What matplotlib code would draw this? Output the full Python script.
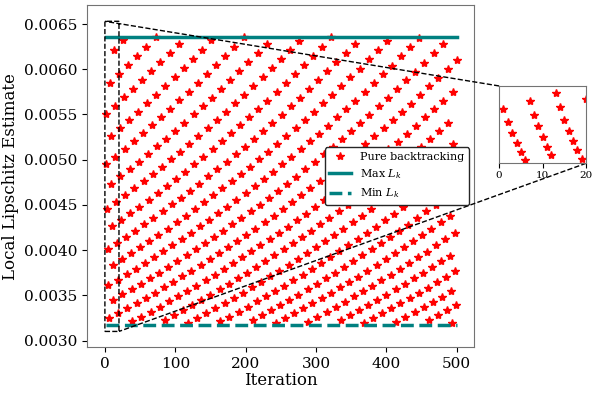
import matplotlib
matplotlib.use("Agg")
import matplotlib.pyplot as plt
import numpy as np

plt.rcParams["font.family"] = "DejaVu Serif"
plt.rcParams["mathtext.fontset"] = "dejavuserif"

# Local Lipschitz estimate per iteration, in units of 1e-6 (iterations 1..500)
L_UNITS = [
    5502, 4952, 4457, 4011, 3610, 3249, 5848, 5263, 4737, 4263,
    3837, 3453, 6216, 5594, 5035, 4531, 4078, 3670, 3303, 5946,
    5352, 4816, 4335, 3901, 3511, 6320, 5688, 5119, 4607, 4147,
    3732, 3359, 6046, 5441, 4897, 4407, 3967, 3570, 3213, 5783,
    5205, 4684, 4216, 3794, 3415, 6147, 5532, 4979, 4481, 4033,
    3630, 3267, 5880, 5292, 4763, 4287, 3858, 3472, 6250, 5625,
    5062, 4556, 4101, 3691, 3321, 5979, 5381, 4843, 4358, 3923,
    3530, 6355, 5719, 5147, 4633, 4169, 3752, 3377, 6079, 5471,
    4924, 4431, 3988, 3589, 3231, 5815, 5233, 4710, 4239, 3815,
    3434, 6181, 5563, 5006, 4506, 4055, 3650, 3285, 5912, 5321,
    4789, 4310, 3879, 3491, 6284, 5656, 5090, 4581, 4123, 3711,
    3340, 6011, 5410, 4869, 4382, 3944, 3550, 3195, 5750, 5175,
    4658, 4192, 3773, 3396, 6112, 5501, 4951, 4456, 4010, 3609,
    3248, 5847, 5262, 4736, 4262, 3836, 3452, 6214, 5593, 5034,
    4530, 4077, 3670, 3303, 5945, 5350, 4815, 4334, 3900, 3510,
    6318, 5687, 5118, 4606, 4146, 3731, 3358, 6044, 5440, 4896,
    4406, 3966, 3569, 3212, 5782, 5204, 4683, 4215, 3793, 3414,
    6145, 5531, 4978, 4480, 4032, 3629, 3266, 5879, 5291, 4762,
    4286, 3857, 3471, 6248, 5623, 5061, 4555, 4099, 3690, 3321,
    5977, 5379, 4841, 4357, 3922, 3529, 6353, 5718, 5146, 4631,
    4168, 3751, 3376, 6077, 5469, 4923, 4430, 3987, 3589, 3230,
    5813, 5232, 4709, 4238, 3814, 3433, 6179, 5561, 5005, 4504,
    4054, 3649, 3284, 5911, 5320, 4788, 4309, 3878, 3490, 6282,
    5654, 5089, 4580, 4122, 3710, 3339, 6010, 5409, 4868, 4381,
    3943, 3549, 3194, 5749, 5174, 4657, 4191, 3772, 3395, 6110,
    5499, 4949, 4454, 4009, 3608, 3247, 5845, 5261, 4735, 4261,
    3835, 3452, 6213, 5591, 5032, 4529, 4076, 3669, 3302, 5943,
    5349, 4814, 4332, 3899, 3509, 6317, 5685, 5117, 4605, 4144,
    3730, 3357, 6043, 5438, 4895, 4405, 3965, 3568, 3211, 5780,
    5202, 4682, 4214, 3792, 3413, 6144, 5529, 4976, 4479, 4031,
    3628, 3265, 5877, 5289, 4760, 4284, 3856, 3470, 6247, 5622,
    5060, 4554, 4098, 3689, 3320, 5976, 5378, 4840, 4356, 3921,
    3529, 6351, 5716, 5145, 4630, 4167, 3750, 3375, 6076, 5468,
    4921, 4429, 3986, 3588, 3229, 5812, 5231, 4708, 4237, 3813,
    3432, 6177, 5560, 5004, 4503, 4053, 3648, 3283, 5909, 5318,
    4786, 4308, 3877, 3489, 6281, 5653, 5087, 4579, 4121, 3709,
    3338, 6008, 5407, 4867, 4380, 3942, 3548, 3193, 5747, 5173,
    4655, 4190, 3771, 3394, 6109, 5498, 4948, 4453, 4008, 3607,
    3246, 5844, 5259, 4733, 4260, 3834, 3451, 6211, 5590, 5031,
    4528, 4075, 3668, 3301, 5942, 5347, 4813, 4331, 3898, 3508,
    6315, 5684, 5115, 4604, 4143, 3729, 3356, 6041, 5437, 4893,
    4404, 3964, 3567, 3210, 5779, 5201, 4681, 4213, 3792, 3412,
    6142, 5528, 4975, 4478, 4030, 3627, 3264, 5876, 5288, 4759,
    4283, 3855, 3470, 6245, 5621, 5059, 4553, 4097, 3688, 3319,
    5974, 5377, 4839, 4355, 3920, 3528, 6350, 5715, 5143, 4629,
    4166, 3749, 3374, 6074, 5467, 4920, 4428, 3985, 3587, 3228,
    5810, 5229, 4706, 4236, 3812, 3431, 6176, 5558, 5002, 4502,
    4052, 3647, 3282, 5908, 5317, 4785, 4307, 3876, 3488, 6279,
    5651, 5086, 4578, 4120, 3708, 3337, 6007, 5406, 4865, 4379,
    3941, 3547, 3192, 5746, 5171, 4654, 4189, 3770, 3393, 6107,
]
ITER_START = 1
MAX_L = 0.00636
MIN_L = 0.003177
ZOOM_XLIM = (0, 20)
ZOOM_YLIM = (0.003102, 0.00653)

L_est = np.array(L_UNITS) * 1e-6
iters = np.arange(ITER_START, ITER_START + len(L_est))

fig = plt.figure(figsize=(5.98, 3.94), dpi=100)
ax = fig.add_axes([0.146, 0.1193, 0.6472, 0.8673])

ax.plot(iters, L_est, linestyle="none", marker="*", color="red", ms=6,
        label="Pure backtracking")
ax.plot([iters[0], iters[-1]], [MAX_L, MAX_L], color="teal", lw=2.5,
        label="Max $L_k$")
ax.plot([iters[0], iters[-1]], [MIN_L, MIN_L], color="teal", lw=2.5,
        linestyle="--", label="Min $L_k$")

ax.set_xlim(-25, 525)
ax.set_ylim(0.00293, 0.006707)
ax.set_xticks([0, 100, 200, 300, 400, 500])
ax.set_yticks(np.arange(0.0030, 0.00651, 0.0005))
ax.yaxis.set_major_formatter(matplotlib.ticker.FormatStrFormatter("%.4f"))
ax.tick_params(labelsize=11)
ax.set_xlabel("Iteration", fontsize=12, labelpad=1)
ax.set_ylabel("Local Lipschitz Estimate", fontsize=12)
for sp in ax.spines.values():
    sp.set_color("0.45")

leg = ax.legend(loc="center right", fontsize=8, framealpha=1)
leg.get_frame().set_edgecolor("0.15")

# zoomed inset of the first 20 iterations
axins = ax.inset_axes([1.064, 0.5376, 0.2248, 0.2263])
axins.plot(iters, L_est, linestyle="none", marker="*", color="red", ms=6)
axins.set_xlim(*ZOOM_XLIM)
axins.set_ylim(*ZOOM_YLIM)
axins.set_xticks([0, 10, 20])
axins.set_yticks([])
axins.tick_params(labelsize=7.5, pad=2)
for sp in axins.spines.values():
    sp.set_color("0.45")

ax.indicate_inset_zoom(axins, edgecolor="black", linestyle="--", alpha=1, lw=1)

fig.savefig("out.png", dpi=100)
